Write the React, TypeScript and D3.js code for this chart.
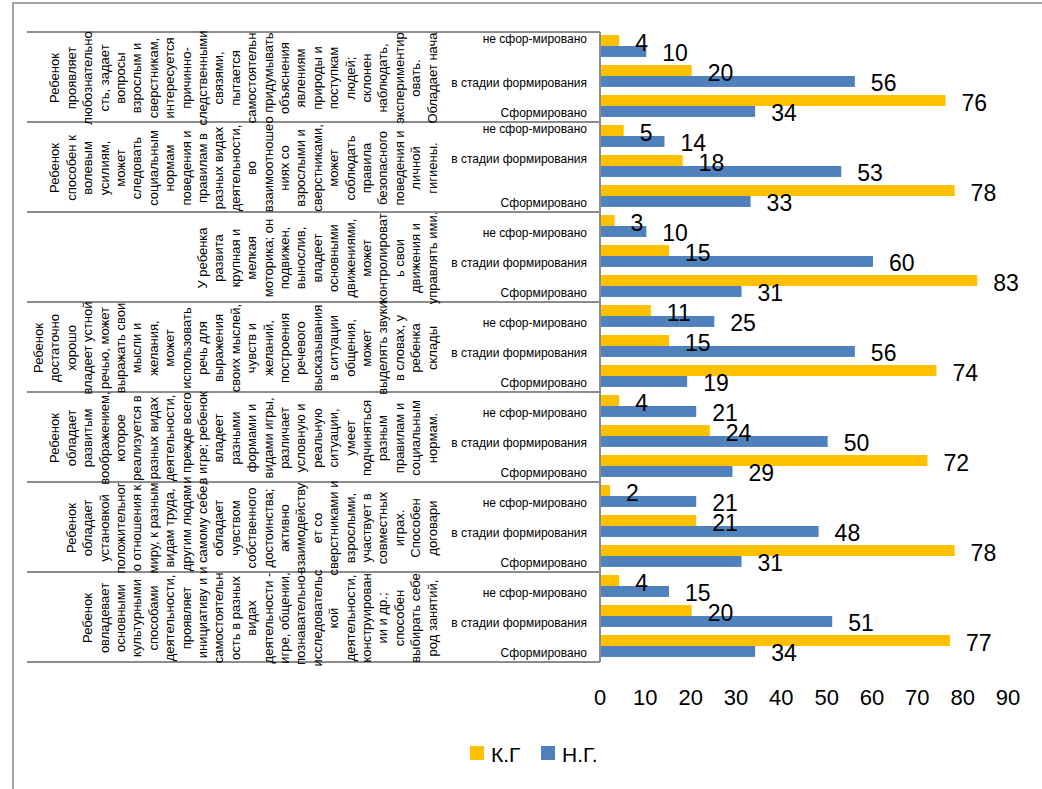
import React from 'react';
import * as d3 from 'd3';

// --- Data ---
const groupTexts: string[][] = [
  ['Ребенок', 'проявляет', 'любознательно', 'сть, задает', 'вопросы', 'взрослым и', 'сверстникам,', 'интересуется', 'причинно-', 'следственными', 'связями,', 'пытается', 'самостоятельн', 'о придумывать', 'объяснения', 'явлениям', 'природы и', 'поступкам', 'людей;', 'склонен', 'наблюдать,', 'экспериментир', 'овать.', 'Обладает нача'],
  ['Ребенок', 'способен к', 'волевым', 'усилиям,', 'может', 'следовать', 'социальным', 'нормам', 'поведения и', 'правилам в', 'разных видах', 'деятельности,', 'во', 'взаимоотноше', 'ниях со', 'взрослыми и', 'сверстниками,', 'может', 'соблюдать', 'правила', 'безопасного', 'поведения и', 'личной', 'гигиены.'],
  ['У ребенка', 'развита', 'крупная и', 'мелкая', 'моторика; он', 'подвижен,', 'вынослив,', 'владеет', 'основными', 'движениями,', 'может', 'контролироват', 'ь свои', 'движения и', 'управлять ими.'],
  ['Ребенок', 'достаточно', 'хорошо', 'владеет устной', 'речью, может', 'выражать свои', 'мысли и', 'желания,', 'может', 'использовать', 'речь для', 'выражения', 'своих мыслей,', 'чувств и', 'желаний,', 'построения', 'речевого', 'высказывания', 'в ситуации', 'общения,', 'может', 'выделять звуки', 'в словах, у', 'ребенка', 'склады'],
  ['Ребенок', 'обладает', 'развитым', 'воображением,', 'которое', 'реализуется в', 'разных видах', 'деятельности,', 'и прежде всего', 'в игре; ребенок', 'владеет', 'разными', 'формами и', 'видами игры,', 'различает', 'условную и', 'реальную', 'ситуации,', 'умеет', 'подчиняться', 'разным', 'правилам и', 'социальным', 'нормам.'],
  ['Ребенок', 'обладает', 'установкой', 'положительног', 'о отношения к', 'миру, к разным', 'видам труда,', 'другим людям', 'и самому себе,', 'обладает', 'чувством', 'собственного', 'достоинства;', 'активно', 'взаимодейству', 'ет со', 'сверстниками и', 'взрослыми,', 'участвует в', 'совместных', 'играх.', 'Способен', 'договари'],
  ['Ребенок', 'овладевает', 'основными', 'культурными', 'способами', 'деятельности,', 'проявляет', 'инициативу и', 'самостоятельн', 'ость в разных', 'видах', 'деятельности -', 'игре, общении,', 'познавательно-', 'исследовательс', 'кой', 'деятельности,', 'конструирован', 'ии и др.;', 'способен', 'выбирать себе', 'род занятий,'],
];

const categories = ['не сфор-мировано', 'в стадии формирования', 'Сформировано'];
const seriesNames = ['К.Г', 'Н.Г.'];
const seriesColors = ['#FFC000', '#4F81BD'];

// К.Г per group: [не сформировано, в стадии, сформировано]
const kgValues = [
  [4, 20, 76],
  [5, 18, 78],
  [3, 15, 83],
  [11, 15, 74],
  [4, 24, 72],
  [2, 21, 78],
  [4, 20, 77],
];
// Н.Г.
const ngValues = [
  [10, 56, 34],
  [14, 53, 33],
  [10, 60, 31],
  [25, 56, 19],
  [21, 50, 29],
  [21, 48, 31],
  [15, 51, 34],
];

// which category labels sit above their tick instead of below (as Excel drew them)
const labelAbove = [
  [true, false, false],
  [true, true, false],
  [false, false, false],
  [false, false, false],
  [false, false, false],
  [false, false, false],
  [false, false, false],
];

const xTicks = [0, 10, 20, 30, 40, 50, 60, 70, 80, 90];

const FONT = '"Liberation Sans", Arial, sans-serif';
const GRID = '#8c8c8c';

const App = () => {
  const width = 1042;
  const height = 789;

  // --- Scales ---
  const x = d3.scaleLinear().domain([0, 90]).range([600, 1008]);
  const yGroup = d3.scaleBand<number>().domain(d3.range(groupTexts.length)).range([32, 662]);
  const yCat = d3.scaleBand<string>()
    .domain(categories)
    .range([0, yGroup.bandwidth()])
    .paddingInner(0.27)
    .paddingOuter(0.135)
    .align(0.375);
  const ySeries = d3.scaleBand<string>().domain(seriesNames).range([0, yCat.bandwidth()]);

  const values = [kgValues, ngValues];
  const boundaries = d3.range(groupTexts.length + 1).map(i =>
    i < groupTexts.length ? yGroup(i)! : yGroup(i - 1)! + yGroup.bandwidth()
  );

  const lineStep = 16.4;
  const lastColX = 432;

  return (
    <div style={{ position: 'absolute', left: 0, top: 0 }}>
      <svg width={width} height={height} style={{ display: 'block', background: '#fff' }} fontFamily={FONT}>
        {/* outer chart border (runs off the page) */}
        <rect x={13} y={3} width={1200} height={1000} fill="none" stroke="#878787" strokeWidth={1.5} />

        {/* group separators */}
        {boundaries.map((b, i) => (
          <line key={'sep' + i} x1={27} x2={600} y1={b} y2={b} stroke={GRID} strokeWidth={2} />
        ))}
        <line x1={600} x2={600} y1={boundaries[0]} y2={boundaries[boundaries.length - 1]} stroke={GRID} strokeWidth={2} />

        {/* rotated group descriptions */}
        {groupTexts.map((lines, g) => {
          const cy = yGroup(g)! + yGroup.bandwidth() / 2 + 1;
          return lines.map((ln, i) => {
            const cx = lastColX - (lines.length - 1 - i) * lineStep;
            return (
              <text
                key={`gt${g}-${i}`}
                transform={`translate(${cx},${cy}) rotate(-90)`}
                textAnchor="middle"
                dominantBaseline="central"
                fontSize={13}
                fill="#000"
              >
                {ln}
              </text>
            );
          });
        })}

        {/* category labels */}
        {groupTexts.map((_, g) =>
          categories.map((c, ci) => (
            <text
              key={`cl${g}-${c}`}
              x={587}
              y={yGroup(g)! + yCat(c)! + yCat.bandwidth() / 2 + (labelAbove[g][ci] ? -7 : 7)}
              textAnchor="end"
              dominantBaseline="central"
              fontSize={12}
              fill="#000"
            >
              {c}
            </text>
          ))
        )}

        {/* bars */}
        {values.map((vals, s) =>
          vals.map((row, g) =>
            row.map((v, c) => (
              <rect
                key={`b${s}-${g}-${c}`}
                x={x(0) + 1}
                y={yGroup(g)! + yCat(categories[c])! + ySeries(seriesNames[s])!}
                width={x(v) - x(0)}
                height={ySeries.bandwidth()}
                fill={seriesColors[s]}
              />
            ))
          )
        )}

        {/* data labels */}
        {values.map((vals, s) =>
          vals.map((row, g) =>
            row.map((v, c) => (
              <text
                key={`dl${s}-${g}-${c}`}
                x={x(v) + 17}
                y={yGroup(g)! + yCat(categories[c])! + ySeries(seriesNames[s])! + ySeries.bandwidth() / 2 + 2}
                dominantBaseline="central"
                fontSize={23}
                fill="#000"
              >
                {v}
              </text>
            ))
          )
        )}

        {/* x tick labels */}
        {xTicks.map(t => (
          <text key={'t' + t} x={x(t)} y={697} textAnchor="middle" dominantBaseline="central" fontSize={22} fill="#000">
            {t}
          </text>
        ))}

        {/* legend */}
        <rect x={470} y={746} width={14} height={14} fill={seriesColors[0]} />
        <text x={491} y={754} dominantBaseline="central" fontSize={21} fill="#000">{seriesNames[0]}</text>
        <rect x={541} y={746} width={14} height={14} fill={seriesColors[1]} />
        <text x={562} y={754} dominantBaseline="central" fontSize={21} fill="#000">{seriesNames[1]}</text>
      </svg>
    </div>
  );
};

export default App;
